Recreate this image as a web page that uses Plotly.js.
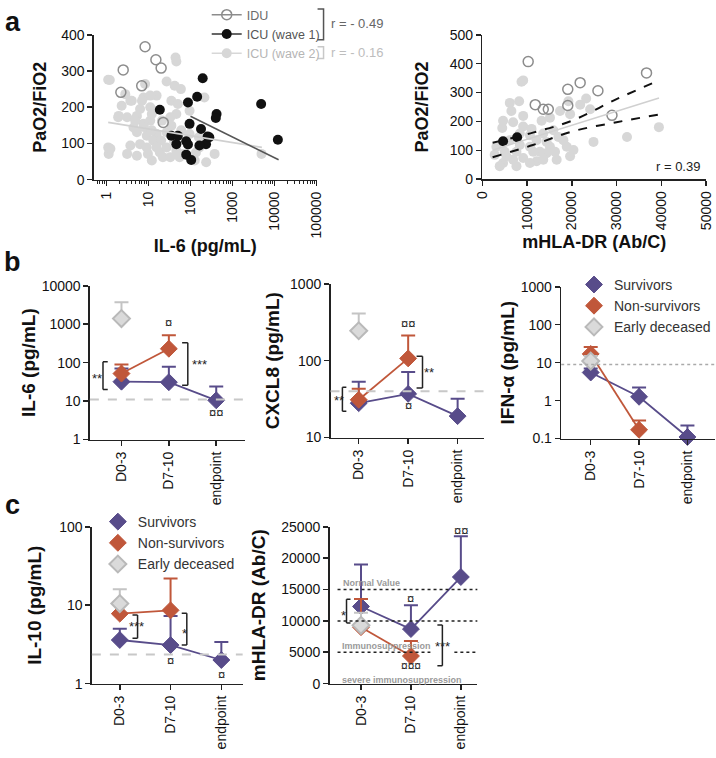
<!DOCTYPE html>
<html><head><meta charset="utf-8">
<script src="https://cdn.plot.ly/plotly-3.0.1.min.js"></script>
<style>html,body{margin:0;padding:0;background:#fff}#chart{width:716px;height:758px}</style>
</head><body><div id="chart"></div>
<script>
// ---------- Panel a (left): IL-6 vs PaO2/FiO2 ----------
const iduIL6 = [9.4, 8.3, 15, 20, 2.5, 6.9, 2.2, 22.4];
const iduPF  = [405, 367, 331, 308, 303, 259, 241, 158];
const w1IL6 = [195, 144, 87, 18.6, 417, 400, 95, 178, 35, 256, 46, 79, 87, 234, 79, 104, 4800, 12000, 163, 50, 280];
const w1PF  = [280, 229, 213, 193, 181, 170, 154, 140, 121, 119, 98, 106, 97, 98, 69, 54, 209, 110, 94, 121, 117];
const w2IL6 = [1.2, 44, 46, 27, 42, 59, 8.3, 15.6, 11, 7.6, 4, 7, 2.3, 1.9, 3.1, 5.3, 6.3, 11, 35, 50,
  95, 46, 33, 21, 11, 7.6, 4.4, 5.3, 9.1, 15.6, 27, 13, 6.3, 3.7, 1.1, 1.13, 3.1, 5.3, 9.7, 18.6,
  27, 46, 22, 12, 55, 135, 375, 236, 214, 4900, 95, 158, 1.1, 1.24, 3.7, 1.95,
  4.8, 7.8, 12, 40, 20, 9.1, 33, 163, 126, 66, 15.6, 35, 60, 2.8, 12];
const w2PF  = [275, 337, 326, 271, 259, 250, 264, 232, 232, 227, 218, 218, 204, 172, 172, 176, 195, 200, 218, 209,
  190, 181, 172, 163, 163, 154, 144, 131, 121, 126, 131, 108, 98, 94, 89, 71, 71, 66, 71, 75,
  89, 80, 62, 53, 62, 75, 71, 48, 227, 71, 126, 117, 276, 85, 218, 176,
  163, 145, 136, 108, 108, 89, 62, 89, 53, 71, 89, 149, 136, 236, 181];
const fitW1IL6 = [100, 12500], fitW1PF = [175, 55];
const fitW2IL6 = [1.1, 5000],  fitW2PF = [158, 89];

// ---------- Panel a (right): mHLA-DR vs PaO2/FiO2 ----------
const iduHLA = [10250, 36700, 21870, 19100, 25840, 11830, 13620, 14750, 19100, 28980];
const iduPF2 = [407, 368, 334, 311, 306, 258, 242, 242, 255, 221];
const w1HLA = [4640, 7780], w1PF2 = [131, 145];
const w2HLA = [4450, 8760, 9130, 6140, 8230, 6500, 9130, 4640, 6890, 9130, 11000, 13250, 15120, 17370, 19240, 21870, 23210, 24100, 19620, 15870,
  13620, 12130, 10640, 8380, 6140, 3140, 2760, 4640, 6890, 9130, 12130, 14370, 16620, 18870, 20370, 24850, 32340, 39470, 17000, 15120,
  10640, 7630, 12880, 5390, 18120, 19620, 3890, 7630, 10640, 13620, 5010, 8380, 11380, 14370, 16250];
const w2PF2 = [177, 337, 342, 264, 270, 236, 219, 202, 197, 182, 174, 202, 213, 236, 270, 258, 279, 242, 225, 169,
  158, 135, 152, 158, 135, 112, 84, 56, 67, 73, 62, 90, 67, 112, 101, 129, 146, 180, 146, 112,
  112, 95, 95, 79, 135, 79, 45, 45, 56, 67, 95, 118, 95, 129, 95];
const fitHLA = [2400, 39500], fitHLAPF = [101, 281];
const ciHLA = [2300, 11300, 20300, 30000, 39500];
const ciUpper = [126, 161, 204, 277, 342];
const ciLower = [76, 118, 166, 197, 224];

// ---------- Panels b & c ----------
const timepoints = ['D0-3', 'D7-10', 'endpoint'];
const il6Surv = [32, 31, 10.5],   il6SurvUp = [70, 78, 24];
const il6Non  = [52, 230],        il6NonUp  = [90, 520];
const il6Early = [1400],          il6EarlyUp = [3700];
const cxSurv = [28, 37, 19],      cxSurvUp = [53, 71, 32];
const cxNon  = [31, 107],         cxNonUp  = [43, 213];
const cxEarly = [245],            cxEarlyUp = [410];
const ifnSurv = [5.5, 1.26, 0.11], ifnSurvUp = [7, 2.2, 0.22];
const ifnNon  = [17, 0.17],        ifnNonUp  = [26, 0.3];
const ifnEarly = [11],             ifnEarlyUp = [15];
const il10Surv = [3.6, 3.1, 2.0],  il10SurvUp = [5, 7.3, 3.4];
const il10Non  = [7.8, 8.6],       il10NonUp  = [11, 22];
const il10Early = [10.5],          il10EarlyUp = [16];
const hlaSurv = [12300, 8700, 17000], hlaSurvUp = [19000, 12500, 23500];
const hlaNon  = [9000, 4400],         hlaNonUp  = [13500, 6800];
const hlaEarly = [9300],              hlaEarlyUp = [11300];
const seriesNames = ['Survivors', 'Non-survivors', 'Early deceased'];

// ---------- helpers ----------
const W = 716, H = 758;
const fx = p => p / W, fy = p => 1 - p / H;
const FONT = 'Liberation Sans, Arial, Helvetica, sans-serif';
const C_SURV = '#584C8A', C_NON = '#C0573A', C_EF = '#DADADA', C_EL = '#B9B9B9';
const INK = '#222';

function axis(extra) {
  return Object.assign({showline: true, linecolor: INK, linewidth: 1.5, ticks: 'outside', ticklen: 5,
    tickwidth: 1.5, tickcolor: INK, showgrid: false, zeroline: false, exponentformat: 'none',
    separatethousands: false,
    tickfont: {family: FONT, size: 14, color: '#111'}, fixedrange: true}, extra);
}
function catAxis(d0, d1, r0, r1, anchor) {
  return axis({type: 'category', categoryorder: 'array', categoryarray: timepoints,
    domain: [fx(d0), fx(d1)], range: [r0, r1], tickangle: -90, anchor: anchor});
}
function ytitle(t, size, standoff) {
  return {text: '<b>' + t + '</b>', font: {family: FONT, size: size, color: '#111'}, standoff: standoff};
}
function errY(vals, ups, color) {
  return {type: 'data', symmetric: false, array: ups.map((u, i) => u - vals[i]),
    arrayminus: vals.map(() => 0), color: color, thickness: 2, width: 7};
}

const traces = [];

// panel a left
traces.push({type: 'scatter', mode: 'markers', x: w2IL6, y: w2PF, xaxis: 'x', yaxis: 'y', cliponaxis: false,
  marker: {color: '#D7D7D7', size: 10}, showlegend: false});
traces.push({type: 'scatter', mode: 'markers', x: iduIL6, y: iduPF, xaxis: 'x', yaxis: 'y', cliponaxis: false,
  marker: {symbol: 'circle-open', color: '#8C8C8C', size: 10, line: {width: 1.5}}, showlegend: false});
traces.push({type: 'scatter', mode: 'markers', x: w1IL6, y: w1PF, xaxis: 'x', yaxis: 'y', cliponaxis: false,
  marker: {color: '#111', size: 10}, showlegend: false});
traces.push({type: 'scatter', mode: 'lines', x: fitW2IL6, y: fitW2PF, xaxis: 'x', yaxis: 'y',
  line: {color: '#D0D0D0', width: 1.6}, showlegend: false, hoverinfo: 'skip'});
traces.push({type: 'scatter', mode: 'lines', x: fitW1IL6, y: fitW1PF, xaxis: 'x', yaxis: 'y',
  line: {color: '#555', width: 1.6}, showlegend: false, hoverinfo: 'skip'});
// legend entries for panel a
traces.push({type: 'scatter', mode: 'lines+markers', x: [null], y: [null], xaxis: 'x', yaxis: 'y',
  name: '<span style="color:#6a6a6a">IDU</span>', legend: 'legend',
  marker: {symbol: 'circle-open', color: '#8C8C8C', size: 10, line: {width: 1.5}}, line: {color: '#8C8C8C', width: 1.5}});
traces.push({type: 'scatter', mode: 'lines+markers', x: [null], y: [null], xaxis: 'x', yaxis: 'y',
  name: '<span style="color:#555">ICU (wave 1)</span>', legend: 'legend',
  marker: {color: '#111', size: 10}, line: {color: '#333', width: 1.5}});
traces.push({type: 'scatter', mode: 'lines+markers', x: [null], y: [null], xaxis: 'x', yaxis: 'y',
  name: '<span style="color:#b5b5b5">ICU (wave 2)</span>', legend: 'legend',
  marker: {color: '#D7D7D7', size: 10}, line: {color: '#D7D7D7', width: 1.5}});

// panel a right
traces.push({type: 'scatter', mode: 'markers', x: w2HLA, y: w2PF2, xaxis: 'x2', yaxis: 'y2', cliponaxis: false,
  marker: {color: '#D7D7D7', size: 10}, showlegend: false});
traces.push({type: 'scatter', mode: 'markers', x: iduHLA, y: iduPF2, xaxis: 'x2', yaxis: 'y2', cliponaxis: false,
  marker: {symbol: 'circle-open', color: '#8C8C8C', size: 10, line: {width: 1.5}}, showlegend: false});
traces.push({type: 'scatter', mode: 'markers', x: w1HLA, y: w1PF2, xaxis: 'x2', yaxis: 'y2', cliponaxis: false,
  marker: {color: '#111', size: 10}, showlegend: false});
traces.push({type: 'scatter', mode: 'lines', x: fitHLA, y: fitHLAPF, xaxis: 'x2', yaxis: 'y2',
  line: {color: '#D0D0D0', width: 1.6}, showlegend: false, hoverinfo: 'skip'});
traces.push({type: 'scatter', mode: 'lines', x: ciHLA, y: ciUpper, xaxis: 'x2', yaxis: 'y2',
  line: {color: '#111', width: 2, dash: 'dash', shape: 'spline'}, showlegend: false, hoverinfo: 'skip'});
traces.push({type: 'scatter', mode: 'lines', x: ciHLA, y: ciLower, xaxis: 'x2', yaxis: 'y2',
  line: {color: '#111', width: 2, dash: 'dash', shape: 'spline'}, showlegend: false, hoverinfo: 'skip'});

// panels b, c
function addPanel(xa, ya, surv, survUp, non, nonUp, early, earlyUp, legendId) {
  const xs = timepoints;
  traces.push({type: 'scatter', mode: 'lines', x: xs.slice(0, surv.length), y: surv, xaxis: xa, yaxis: ya,
    line: {color: C_SURV, width: 1.8}, showlegend: false, hoverinfo: 'skip'});
  traces.push({type: 'scatter', mode: 'lines', x: xs.slice(0, non.length), y: non, xaxis: xa, yaxis: ya,
    line: {color: C_NON, width: 1.8}, showlegend: false, hoverinfo: 'skip'});
  const show = !!legendId;
  traces.push({type: 'scatter', mode: 'markers', x: xs.slice(0, surv.length), y: surv, xaxis: xa, yaxis: ya,
    name: seriesNames[0], showlegend: show, legend: legendId || 'legend', cliponaxis: false,
    marker: {symbol: 'diamond', size: 13, color: C_SURV, line: {color: C_SURV, width: 1}},
    error_y: errY(surv, survUp, C_SURV)});
  traces.push({type: 'scatter', mode: 'markers', x: xs.slice(0, non.length), y: non, xaxis: xa, yaxis: ya,
    name: seriesNames[1], showlegend: show, legend: legendId || 'legend', cliponaxis: false,
    marker: {symbol: 'diamond', size: 13, color: C_NON, line: {color: C_NON, width: 1}},
    error_y: errY(non, nonUp, C_NON)});
  traces.push({type: 'scatter', mode: 'markers', x: xs.slice(0, early.length), y: early, xaxis: xa, yaxis: ya,
    name: seriesNames[2], showlegend: show, legend: legendId || 'legend', cliponaxis: false,
    marker: {symbol: 'diamond', size: 13, color: C_EF, line: {color: C_EL, width: 2}},
    error_y: errY(early, earlyUp, '#C4C4C4')});
}
addPanel('x3', 'y3', il6Surv, il6SurvUp, il6Non, il6NonUp, il6Early, il6EarlyUp, null);
addPanel('x4', 'y4', cxSurv, cxSurvUp, cxNon, cxNonUp, cxEarly, cxEarlyUp, null);
addPanel('x5', 'y5', ifnSurv, ifnSurvUp, ifnNon, ifnNonUp, ifnEarly, ifnEarlyUp, 'legend2');
addPanel('x6', 'y6', il10Surv, il10SurvUp, il10Non, il10NonUp, il10Early, il10EarlyUp, 'legend3');
addPanel('x7', 'y7', hlaSurv, hlaSurvUp, hlaNon, hlaNonUp, hlaEarly, hlaEarlyUp, null);

// ---------- annotations & shapes ----------
const shapes = [], annotations = [];
function txt(xref, yref, x, y, text, o) {
  annotations.push(Object.assign({xref: xref, yref: yref, x: x, y: y, text: text, showarrow: false,
    font: {family: FONT, size: 13, color: INK}, xanchor: 'center', yanchor: 'middle'}, o || {}));
}
function ptxt(px, py, text, o) { txt('paper', 'paper', fx(px), fy(py), text, o); }
// shapes take data values directly (also on log axes)
function bracket(xa, ya, x, lo, hi, arm) {
  const st = {color: INK, width: 1.5};
  shapes.push({type: 'line', xref: xa, yref: ya, x0: x, x1: x, y0: lo, y1: hi, line: st});
  shapes.push({type: 'line', xref: xa, yref: ya, x0: x, x1: x + arm, y0: lo, y1: lo, line: st});
  shapes.push({type: 'line', xref: xa, yref: ya, x0: x, x1: x + arm, y0: hi, y1: hi, line: st});
}
function hline(xa, ya, y, color, dash, width) {
  shapes.push({type: 'line', xref: xa + ' domain', yref: ya, x0: 0, x1: 1, y0: y, y1: y,
    line: {color: color, dash: dash, width: width}});
}
function pathPaper(pts, color) {
  const d = pts.map((p, i) => (i ? 'L' : 'M') + fx(p[0]) + ',' + fy(p[1])).join(' ');
  shapes.push({type: 'path', xref: 'paper', yref: 'paper', path: d, line: {color: color, width: 1.5}});
}
const L = Math.log10;

// panel letters
const letterFont = {family: FONT, size: 27, color: '#111'};
ptxt(13, 16, '<b>a</b>', {font: letterFont});
ptxt(13, 258, '<b>b</b>', {font: letterFont});
ptxt(13, 503, '<b>c</b>', {font: letterFont});

// panel a legend brackets and r values
pathPaper([[318, 3], [324, 3], [324, 34], [318, 34]], '#555');
pathPaper([[318, 41], [324, 41], [324, 53], [318, 53]], '#C8C8C8');
ptxt(329, 18, 'r = - 0.49', {xanchor: 'left', font: {family: FONT, size: 13, color: '#666'}});
ptxt(329, 47, 'r = - 0.16', {xanchor: 'left', font: {family: FONT, size: 13, color: '#BDBDBD'}});
ptxt(655, 162, 'r = 0.39', {xanchor: 'left', font: {family: FONT, size: 13, color: INK}});

// b1 IL-6
hline('x3', 'y3', 11, '#C8C8C8', 'dash', 2);
bracket('x3', 'y3', -0.39, 20, 105, 0.1);
txt('x3', 'y3', -0.52, L(38), '**');
bracket('x3', 'y3', 1.40, 26, 330, -0.12);
txt('x3', 'y3', 1.45, L(89), '***', {xanchor: 'left'});
txt('x3', 'y3', 1, L(1100), '¤');
txt('x3', 'y3', 2, L(5.2), '¤¤');
// b2 CXCL8
hline('x4', 'y4', 40, '#C8C8C8', 'dash', 2);
bracket('x4', 'y4', -0.33, 22, 45, 0.08);
txt('x4', 'y4', -0.4, L(30), '**');
bracket('x4', 'y4', 1.29, 44, 114, -0.12);
txt('x4', 'y4', 1.27, L(71), '**', {xanchor: 'left'});
txt('x4', 'y4', 1, L(300), '¤¤');
txt('x4', 'y4', 1, L(26), '¤');
// b3 IFN-a
hline('x5', 'y5', 9, '#AAAAAA', 'dot', 1.5);
// c1 IL-10
hline('x6', 'y6', 2.35, '#C8C8C8', 'dash', 2);
bracket('x6', 'y6', 0.35, 3.8, 7.5, -0.1);
txt('x6', 'y6', 0.33, L(5.3), '***');
bracket('x6', 'y6', 1.32, 3.1, 7.9, -0.1);
txt('x6', 'y6', 1.27, L(4.4), '*');
txt('x6', 'y6', 1, L(2.0), '¤');
txt('x6', 'y6', 2, L(1.3), '¤');
// c2 mHLA-DR
const dotted = {color: INK, dash: 'dot', width: 1.5};
shapes.push({type: 'line', xref: 'paper', yref: 'y7', x0: fx(338), x1: fx(478), y0: 15000, y1: 15000, line: dotted});
shapes.push({type: 'line', xref: 'paper', yref: 'y7', x0: fx(338), x1: fx(478), y0: 10000, y1: 10000, line: dotted});
shapes.push({type: 'line', xref: 'paper', yref: 'y7', x0: fx(338), x1: fx(431), y0: 5000, y1: 5000, line: dotted});
shapes.push({type: 'line', xref: 'paper', yref: 'y7', x0: fx(455), x1: fx(478), y0: 5000, y1: 5000, line: dotted});
const grayLab = {family: FONT, size: 9, color: '#9A9A9A'};
txt('paper', 'y7', fx(341), 16000, '<b>Normal Value</b>', {xanchor: 'left', font: grayLab});
txt('paper', 'y7', fx(340), 5950, '<b>Immunosuppression</b>', {xanchor: 'left', font: grayLab});
txt('paper', 'y7', fx(340), 650, '<b>severe immunosuppression</b>', {xanchor: 'left', font: grayLab});
bracket('x7', 'y7', -0.29, 9650, 13450, 0.08);
txt('x7', 'y7', -0.36, 10800, '*');
bracket('x7', 'y7', 1.63, 2850, 9340, -0.1);
txt('x7', 'y7', 1.63, 5900, '***');
txt('x7', 'y7', 1, 13600, '¤');
txt('x7', 'y7', 2, 24400, '¤¤');
txt('x7', 'y7', 1, 2750, '¤¤¤', {font: {family: FONT, size: 12, color: INK}});

// ---------- layout ----------
const legendBase = {xanchor: 'left', yanchor: 'top', bgcolor: 'rgba(0,0,0,0)', borderwidth: 0, tracegroupgap: 0};
const layout = {
  width: W, height: H, margin: {l: 0, r: 0, t: 0, b: 0},
  paper_bgcolor: '#fff', plot_bgcolor: 'rgba(0,0,0,0)', font: {family: FONT, color: INK},
  hovermode: false,
  legend: Object.assign({}, legendBase, {x: fx(207), y: fy(-6), font: {family: FONT, size: 12.5, color: '#555'}}),
  legend2: Object.assign({}, legendBase, {x: fx(575), y: fy(265), font: {family: FONT, size: 14, color: '#333'}}),
  legend3: Object.assign({}, legendBase, {x: fx(98), y: fy(504), font: {family: FONT, size: 14, color: '#333'}}),
  xaxis: axis({type: 'log', domain: [fx(94), fx(317)], range: [-0.3, 5], dtick: 1, tickformat: 'd', tickangle: -90, anchor: 'y',
    minor: {ticks: 'outside', ticklen: 3, tickwidth: 1, tickcolor: INK, dtick: 'D1', showgrid: false},
    title: ytitle('IL-6 (pg/mL)', 18, 2)}),
  yaxis: axis({domain: [fy(175), fy(29)], range: [0, 400], dtick: 100, anchor: 'x',
    title: ytitle('PaO2/FiO2', 18, 10)}),
  xaxis2: axis({domain: [fx(483), fx(707)], range: [0, 50000], dtick: 10000, tickformat: 'd', tickangle: -90, anchor: 'y2',
    title: ytitle('mHLA-DR (Ab/C)', 18, 6)}),
  yaxis2: axis({domain: [fy(174.5), fy(29)], range: [0, 500], dtick: 100, anchor: 'x2',
    title: ytitle('PaO2/FiO2', 18, 16)}),
  xaxis3: catAxis(90, 245, -0.667, 2.6, 'y3'),
  yaxis3: axis({type: 'log', domain: [fy(437), fy(282)], range: [0, 4], dtick: 1, tickformat: 'd', anchor: 'x3',
    title: ytitle('IL-6 (pg/mL)', 19, 1)}),
  xaxis4: catAxis(331, 485, -0.57, 2.54, 'y4'),
  yaxis4: axis({type: 'log', domain: [fy(435), fy(280)], range: [1, 3], dtick: 1, anchor: 'x4',
    title: ytitle('CXCL8 (pg/mL)', 19, 5)}),
  xaxis5: catAxis(562, 716, -0.61, 2.57, 'y5'),
  yaxis5: axis({type: 'log', domain: [fy(436), fy(283)], range: [-1, 3], dtick: 1, anchor: 'x5',
    title: ytitle('IFN-α (pg/mL)', 19, 1)}),
  xaxis6: catAxis(92, 243, -0.55, 2.42, 'y6'),
  yaxis6: axis({type: 'log', domain: [fy(683), fy(525)], range: [0, 2], dtick: 1, anchor: 'x6',
    title: ytitle('IL-10 (pg/mL)', 19, 12)}),
  xaxis7: catAxis(330, 478, -0.63, 2.33, 'y7'),
  yaxis7: axis({domain: [fy(683), fy(525)], range: [0, 25000], dtick: 5000, tickformat: 'd', anchor: 'x7',
    title: ytitle('mHLA-DR (Ab/C)', 19, 10)}),
  shapes: shapes, annotations: annotations
};
Plotly.newPlot('chart', traces, layout, {staticPlot: true, displayModeBar: false});
</script>
</body></html>
